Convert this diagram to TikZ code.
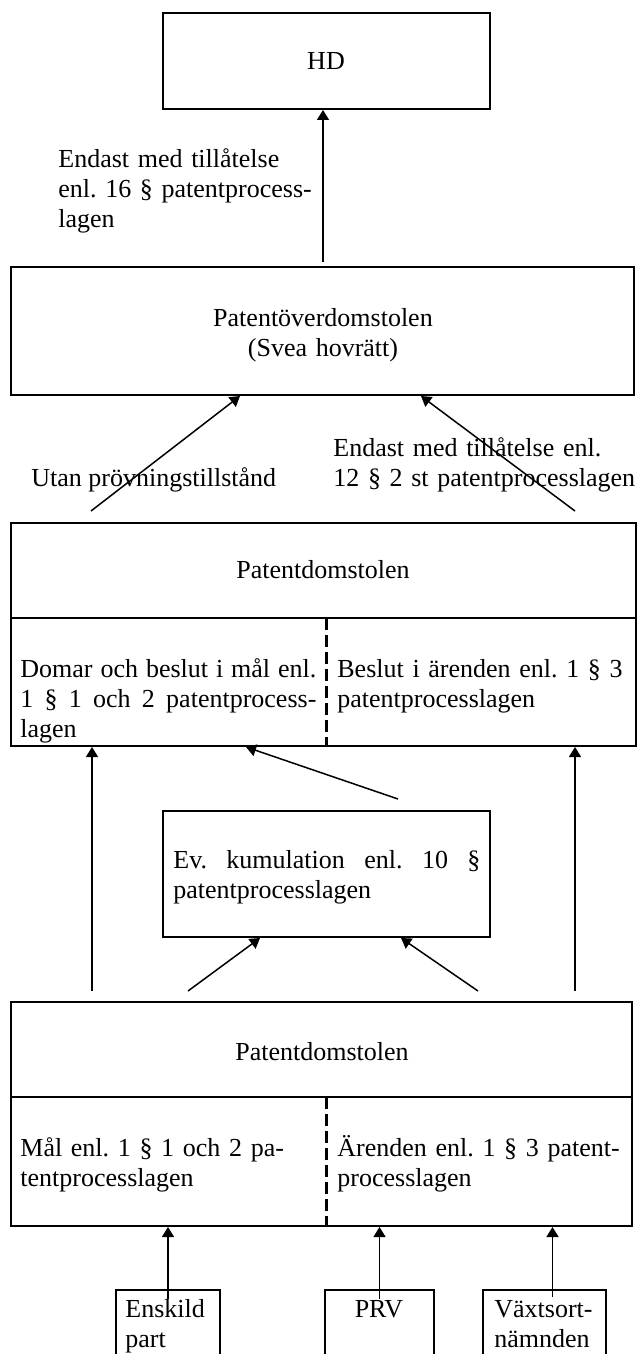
\documentclass[tikz,border=0pt]{standalone}
\usepackage{fontspec}
\setmainfont{Liberation Serif}
\usepackage{tikz}
\usetikzlibrary{arrows.meta, positioning, calc, fit}

\tikzset{
  court/.style={draw, line width=1pt, inner sep=0pt},
  lbl/.style={inner sep=0pt, font=\fontsize{13}{15}\selectfont\frenchspacing},
  up/.style={line width=0.75pt, -{Triangle[length=5pt,width=6pt]}},
  splitline/.style={line width=1.5pt, dash pattern=on 6pt off 2.5pt},
}

\begin{document}
\begin{tikzpicture}[x=0.5pt,y=-0.5pt]
  \clip (0,0) rectangle (637,1354);
  \fill[white] (0,0) rectangle (637,1354);

  % courts
  \node[court, fit={(163,13) (490,109)}] (hd) {};
  \node[lbl, anchor=base] (hdname) at (326,70) {HD};

  \node[court, fit={(11,267) (634,395)}] (pod) {};
  \node[lbl, anchor=base, text width=300pt, align=center] (podname) at (323,326)
    {Patentöverdomstolen\\(Svea hovrätt)};

  \node[court, fit={(11,523) (636,746)}] (pd1) {};
  \draw[line width=1pt] ($(pd1.north west)+(0,96)$) -- ($(pd1.north east)+(0,96)$);
  \draw[splitline] ($(pd1.north west)+(316,96)$) -- ($(pd1.south west)+(316,0)$);
  \node[lbl, anchor=base] (pd1name) at (323,578) {Patentdomstolen};
  \node[lbl, anchor=base west, text width=148pt, align=justify] (pd1mal) at (20,677)
    {Domar och beslut i mål enl.\linebreak 1 § 1 och 2 patentprocess-\linebreak lagen};
  \node[lbl, anchor=base west, text width=145pt, align=left] (pd1arende) at (337,677)
    {Beslut i ärenden enl. 1 § 3\\patentprocesslagen};

  \node[court, fit={(163,811) (490,937)}] (ev) {};
  \node[lbl, anchor=base west, text width=153.5pt, align=justify] (evtext) at (173,868)
    {Ev. kumulation enl. 10 §\linebreak patentprocesslagen};

  \node[court, fit={(11,1002) (632,1226)}] (pd2) {};
  \draw[line width=1pt] ($(pd2.north west)+(0,96)$) -- ($(pd2.north east)+(0,96)$);
  \draw[splitline] ($(pd2.north west)+(316,96)$) -- ($(pd2.south west)+(316,0)$);
  \node[lbl, anchor=base] (pd2name) at (322,1060) {Patentdomstolen};
  \node[lbl, anchor=base west, text width=148pt, align=left] (pd2mal) at (20,1156)
    {Mål enl. 1 § 1 och 2 pa-\\tentprocesslagen};
  \node[lbl, anchor=base west, text width=145pt, align=left] (pd2arende) at (337,1156)
    {Ärenden enl. 1 § 3 patent-\\processlagen};

  % parties
  \node[court, fit={(116,1290) (220,1366)}] (enskild) {};
  \node[lbl, anchor=base west, text width=45pt, align=left] (enskildname) at (125,1317)
    {Enskild\\part};
  \node[court, fit={(325,1290) (434,1366)}] (prv) {};
  \node[lbl, anchor=base] (prvname) at (379,1317) {PRV};
  \node[court, fit={(483,1290) (606,1366)}] (vaxt) {};
  \node[lbl, anchor=base west, text width=58pt, align=left] (vaxtname) at (494,1317)
    {Växtsort-\\nämnden};

  % appeal conditions
  \node[lbl, anchor=base west, text width=140pt, align=left] (hdvia) at (58,167)
    {Endast med tillåtelse\\enl. 16 § patentprocess-\\lagen};
  \node[lbl, anchor=base west] (direkt) at (31,486) {Utan prövningstillstånd};
  \node[lbl, anchor=base west, text width=165pt, align=left] (tillst) at (333,456)
    {Endast med tillåtelse enl.\\12 § 2 st patentprocesslagen};

  % arrows
  \coordinate (hdfrom) at (323,262);
  \draw[up] (hdfrom) -- (hdfrom |- hd.south);
  \coordinate (podfromL) at (91,511);
  \coordinate (podfromR) at (575,511);
  \draw[up] (podfromL) -- ($(pod.south west)+(230,0)$);
  \draw[up] (podfromR) -- ($(pod.south west)+(411,0)$);
  \foreach \x in {92,575}{
    \coordinate (pd1from\x) at (\x,991);
    \draw[up] (pd1from\x) -- (pd1from\x |- pd1.south);
  }
  \coordinate (evfrom) at (398,799);
  \draw[up] (evfrom) -- ($(pd1.south west)+(236,0)$);
  \coordinate (evfromL) at (188,991);
  \coordinate (evfromR) at (478,991);
  \draw[up] (evfromL) -- ($(ev.south west)+(98,0)$);
  \draw[up] (evfromR) -- ($(ev.south west)+(239,0)$);
  \draw[up] ($(enskild.north)+(0,10)$) -- (enskild.north |- pd2.south);
  \draw[up] ($(prv.north)+(0,10)$) -- (prv.north |- pd2.south);
  \coordinate (vaxtfrom) at ($(vaxt.north)+(8,8)$);
  \draw[up] (vaxtfrom) -- (vaxtfrom |- pd2.south);
\end{tikzpicture}
\end{document}
